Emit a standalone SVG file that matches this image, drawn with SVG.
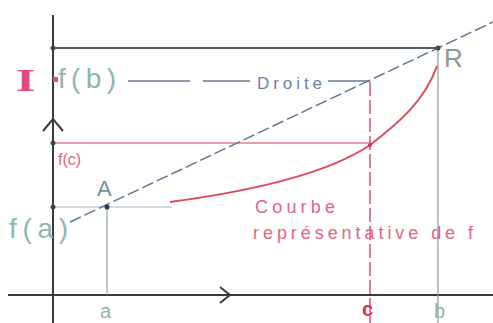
<svg xmlns="http://www.w3.org/2000/svg" width="493" height="323" viewBox="0 0 493 323">
<style>
.ax{stroke:#3a3a3a;stroke-width:2;fill:none}
.thin{stroke:#8aa8a8;stroke-width:1.2;fill:none}
.dot{fill:#3a4a4a}
.lbl{font-family:"Liberation Sans",Arial,sans-serif;fill:#8fb5b0}
.pk{font-family:"Liberation Sans",Arial,sans-serif;fill:#e06680}
.dr{stroke:#6a7890;stroke-width:1.4}
</style>
<rect width="493" height="323" fill="#ffffff"/>
<g id="connectors">
<line class="ax" x1="53" y1="15" x2="53" y2="323"/>
<line class="ax" x1="8" y1="295" x2="493" y2="295"/>
<polyline class="ax" points="43,131 53,119 63,131" stroke-width="1.5"/>
<polyline class="ax" points="220,287 230,295 220,303" stroke-width="1.5"/>
<line x1="53" y1="48" x2="438" y2="48" stroke="#55605e" stroke-width="2.2"/>
<line x1="53" y1="143" x2="370" y2="143" stroke="#e07d90" stroke-width="1.5"/>
<line x1="53" y1="207" x2="172" y2="207" stroke="#a8b8c0" stroke-width="1.2"/>
<line class="thin" x1="107" y1="207" x2="107" y2="295"/>
<line x1="438" y1="48" x2="438" y2="323" stroke="#8a9898" stroke-width="1.2"/>
<line x1="370" y1="82" x2="370" y2="323" stroke="#d85070" stroke-width="1.5" stroke-dasharray="14,4"/>
<line class="dr" x1="128" y1="81" x2="190" y2="81"/>
<line class="dr" x1="203" y1="81" x2="250" y2="81"/>
<line class="dr" x1="328" y1="81" x2="370" y2="81"/>
<line x1="70" y1="222" x2="493" y2="22" stroke="#5a7095" stroke-width="1.4" stroke-dasharray="12,4"/>
<path d="M170,202 C260,190 330,172 370,145 C400,122 425,100 437,66" fill="none" stroke="#e04a5c" stroke-width="2"/>
</g>
<g id="point-fb"><circle class="dot" cx="53" cy="48" r="2.5"/></g>
<g id="point-fc"><circle class="dot" cx="53" cy="143" r="2.5"/></g>
<g id="point-fa"><circle class="dot" cx="53" cy="207" r="2.5"/></g>
<g id="point-A"><circle cx="107" cy="207" r="2.5" fill="#2a3a5a"/><text x="97" y="196" font-family="Liberation Sans,Arial,sans-serif" font-size="22" fill="#6f8fa0">A</text></g>
<g id="point-R"><circle class="dot" cx="438" cy="48" r="2.5"/><text x="444" y="67" font-family="Liberation Sans,Arial,sans-serif" font-size="26" fill="#8a9898">R</text></g>
<g id="point-C"><circle cx="370" cy="145" r="2" fill="#d83050"/></g>
<g id="label-I"><text x="0" y="0" transform="translate(16,91) scale(1.6,1)" font-family="Liberation Serif,serif" font-weight="bold" font-size="31" fill="#e04c7c">I</text><rect x="53" y="77" width="5" height="5" fill="#e04c7c"/></g>
<g id="label-fb"><text class="lbl" x="58" y="88" font-size="28" textLength="58" lengthAdjust="spacing">f(b)</text></g>
<g id="label-fc"><text class="pk" x="58" y="165" font-size="16">f(c)</text></g>
<g id="label-fa"><text class="lbl" x="9" y="238" font-size="28" textLength="59" lengthAdjust="spacing">f(a)</text></g>
<g id="label-droite"><text x="257" y="89" font-family="Liberation Sans,Arial,sans-serif" font-size="17" fill="#6a80a8" textLength="65" lengthAdjust="spacing">Droite</text></g>
<g id="label-courbe"><text class="pk" x="255" y="213" font-size="18" textLength="80" lengthAdjust="spacing">Courbe</text><text class="pk" x="253" y="239" font-size="18" textLength="220" lengthAdjust="spacing">représentative de f</text></g>
<g id="label-a"><text class="lbl" x="100" y="318" font-size="20">a</text></g>
<g id="label-c"><text x="362" y="316" font-family="Liberation Sans,Arial,sans-serif" font-size="20" font-weight="bold" fill="#d83050">c</text></g>
<g id="label-b"><text class="lbl" x="434" y="318" font-size="20">b</text></g>
</svg>
